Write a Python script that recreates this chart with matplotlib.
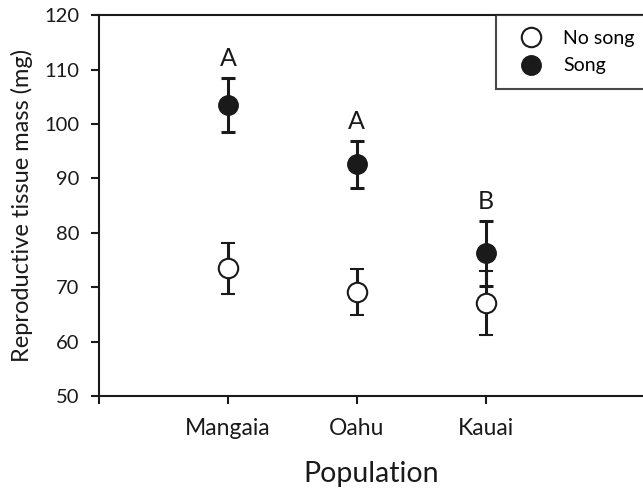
import matplotlib.pyplot as plt

plt.rcParams['font.family'] = ['Lato', 'DejaVu Sans']

populations = ['Mangaia', 'Oahu', 'Kauai']
no_song_mean = [73.5, 69.1, 67.1]
no_song_err = [4.7, 4.3, 5.9]
song_mean = [103.5, 92.6, 76.2]
song_err = [5.0, 4.3, 5.9]
letters = ['A', 'A', 'B']

x = [1, 2, 3]
ink = '#1a1a1a'

fig = plt.figure(figsize=(6.43, 4.9), dpi=100, facecolor='white')
ax = fig.add_axes([0.154, 0.192, 0.846, 0.777])

eb1 = ax.errorbar(x, no_song_mean, yerr=no_song_err, fmt='o', color=ink, mfc='white',
                  mec=ink, mew=1.5, ms=14, elinewidth=2.2, capsize=5, capthick=2.2,
                  zorder=3)
eb2 = ax.errorbar(x, song_mean, yerr=song_err, fmt='o', color=ink, mfc=ink,
                  mec=ink, ms=14, elinewidth=2.2, capsize=5, capthick=2.2,
                  zorder=3)

for xi, m, e, t in zip(x, song_mean, song_err, letters):
    ax.text(xi, m + e + 1.5, t, ha='center', va='bottom', fontsize=18, color=ink)

ax.set_xlim(0, 4.22)
ax.set_ylim(50, 120)
ax.set_yticks(range(50, 121, 10))
ax.set_xticks([0] + x)
ax.set_xticklabels([''] + populations, fontsize=16.5)
ax.tick_params(axis='y', labelsize=14.5, direction='out', length=6, width=1.5,
               colors=ink, pad=8)
ax.tick_params(axis='x', direction='out', length=6, width=1.5, colors=ink, pad=10)
for s in ['left', 'bottom', 'top']:
    ax.spines[s].set_linewidth(1.5)
    ax.spines[s].set_color(ink)
ax.spines['right'].set_visible(False)

ax.set_ylabel('Reproductive tissue mass (mg)', fontsize=17, color=ink, labelpad=8)
ax.set_xlabel('Population', fontsize=20.5, color=ink, labelpad=16)

leg = ax.legend([eb1[0], eb2[0]], ['No song', 'Song'], loc='upper left',
                mode='expand', bbox_to_anchor=(0.73, 1.0, 0.35, 0.0),
                frameon=True, fancybox=False, fontsize=14,
                handlelength=2.1, handletextpad=0.6, borderpad=0.75,
                labelspacing=0.55, borderaxespad=0)
leg.get_frame().set_edgecolor(ink)
leg.get_frame().set_linewidth(1.5)

fig.savefig('out.png', dpi=100)
